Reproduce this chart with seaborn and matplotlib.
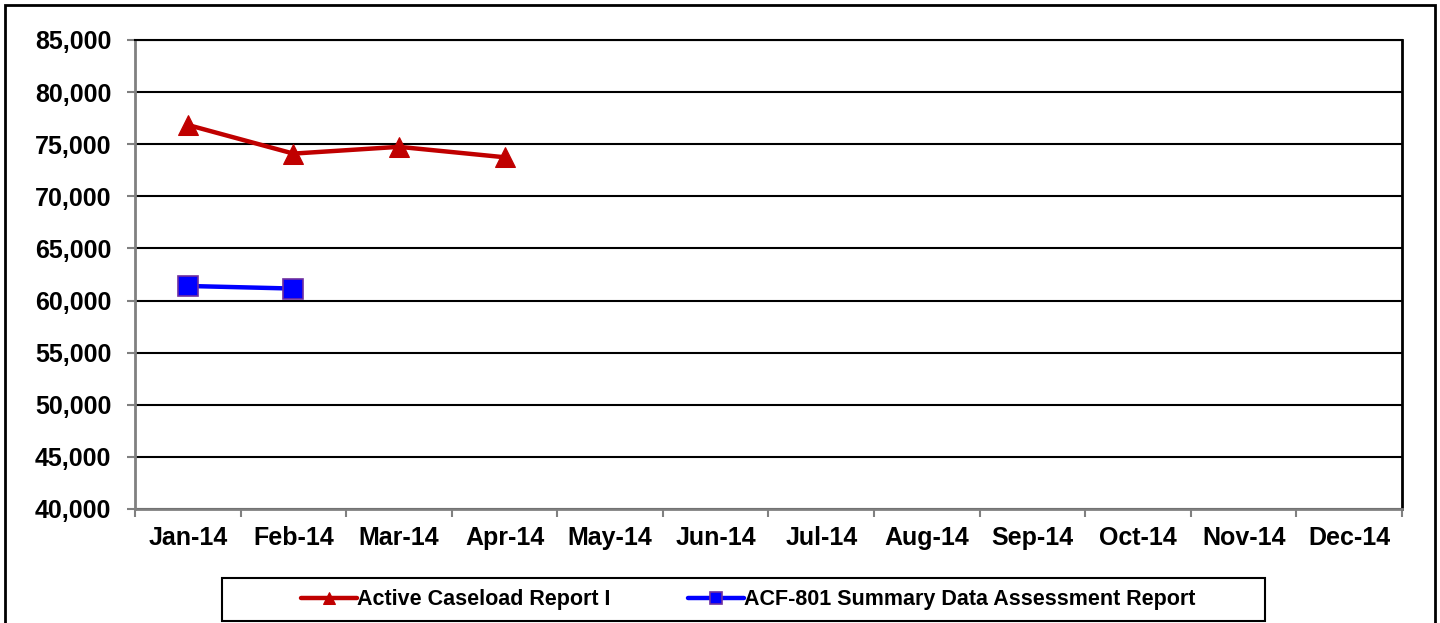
import numpy as np
import pandas as pd
import matplotlib
matplotlib.use("Agg")
import matplotlib.pyplot as plt
import seaborn as sns
from matplotlib.patches import Rectangle
from matplotlib.ticker import FuncFormatter, FixedLocator

months = ['Jan-14', 'Feb-14', 'Mar-14', 'Apr-14', 'May-14', 'Jun-14',
          'Jul-14', 'Aug-14', 'Sep-14', 'Oct-14', 'Nov-14', 'Dec-14']
active_caseload = [76850, 74100, 74750, 73750]
acf801 = [61400, 61150]
series_names = ['Active Caseload Report I', 'ACF-801 Summary Data Assessment Report']

sns.set_style("white")
plt.rcParams['font.family'] = ['Liberation Sans', 'DejaVu Sans']
plt.rcParams['font.weight'] = 'bold'
plt.rcParams['text.color'] = 'black'
plt.rcParams['xtick.color'] = 'black'
plt.rcParams['ytick.color'] = 'black'

rows = []
for i, v in enumerate(active_caseload):
    rows.append({'pos': i, 'value': v, 'series': series_names[0]})
for i, v in enumerate(acf801):
    rows.append({'pos': i, 'value': v, 'series': series_names[1]})
df = pd.DataFrame(rows)

fig = plt.figure(figsize=(14.4, 6.23), dpi=100)
ax = fig.add_axes([135/1440, 1 - 509/623, (1402-135)/1440, (509-40)/623])

palette = {series_names[0]: '#C00000', series_names[1]: '#0000FF'}
markers = {series_names[0]: '^', series_names[1]: 's'}
sns.lineplot(data=df, x='pos', y='value', hue='series', style='series',
             palette=palette, markers=markers, dashes=False, linewidth=3.2,
             markersize=14.5, ax=ax, legend=False)
for line in ax.lines:
    if line.get_marker() == 's':
        line.set_markeredgecolor('#7030A0')
        line.set_markeredgewidth(1.2)
    else:
        line.set_markeredgecolor('#C00000')

ax.set_xlim(-0.5, 11.5)
ax.set_ylim(40000, 85000)
ax.set_yticks(np.arange(40000, 85001, 5000))
ax.yaxis.set_major_formatter(FuncFormatter(lambda v, p: f'{int(v):,}'))
ax.grid(axis='y', color='black', linewidth=1.5)
ax.set_xticks(range(12))
ax.set_xticklabels(months)
ax.xaxis.set_minor_locator(FixedLocator(np.arange(-0.5, 12, 1)))
ax.tick_params(axis='x', which='major', length=0, pad=12, labelsize=18)
ax.tick_params(axis='x', which='minor', length=6, color='#808080', width=1.5, direction='out', bottom=True)
ax.tick_params(axis='y', length=6, color='#808080', width=1.5, direction='out', left=True, labelsize=18, pad=11)
for lbl in ax.get_xticklabels() + ax.get_yticklabels():
    lbl.set_fontweight('bold')
    lbl.set_color('black')
ax.set_xlabel('')
ax.set_ylabel('')
ax.spines['left'].set_color('#808080')
ax.spines['bottom'].set_color('#808080')
ax.spines['left'].set_linewidth(2)
ax.spines['bottom'].set_linewidth(2)
ax.spines['right'].set_color('black')
ax.spines['right'].set_linewidth(2)
ax.spines['top'].set_color('black')
ax.spines['top'].set_linewidth(1.5)

# outer frame
fig.patches.append(Rectangle((5/1440, -0.05), 1430/1440, 1.05 - 5/623, transform=fig.transFigure,
                             fill=False, edgecolor='black', linewidth=2))
# legend box
fig.patches.append(Rectangle((222/1440, 1 - 621/623), (1265-222)/1440, 43/623, transform=fig.transFigure,
                             fill=False, edgecolor='black', linewidth=1.5))

handles = ax.lines[:2]
leg = fig.legend(handles, series_names, loc='center', bbox_to_anchor=(748/1440, 1 - 600/623),
                 ncol=2, frameon=False, fontsize=15.5,
                 handlelength=2.6, columnspacing=3.6, borderpad=0.45, handletextpad=0.0,
                 markerscale=0.55, borderaxespad=0)
for t in leg.get_texts():
    t.set_fontweight('bold')
    t.set_color('black')

fig.savefig('out.png', dpi=100)
